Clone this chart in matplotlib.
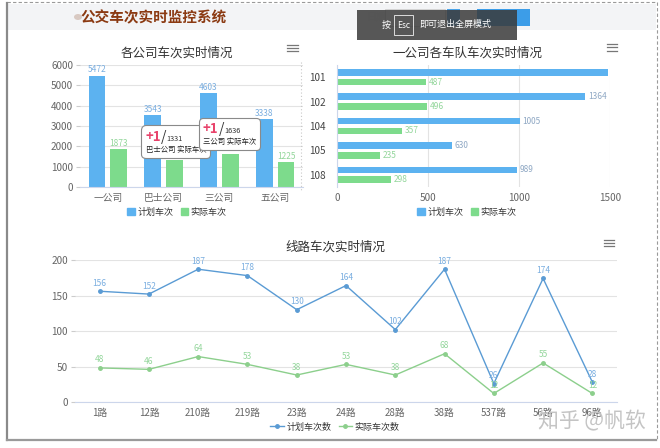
import matplotlib
matplotlib.use('Agg')
import matplotlib.pyplot as plt
from matplotlib.patches import Rectangle, Patch, Ellipse
from matplotlib.lines import Line2D
from matplotlib.offsetbox import TextArea, HPacker, VPacker, AnnotationBbox
import numpy as np

plt.rcParams['font.family'] = ['Noto Sans CJK SC', 'DejaVu Sans']

# ---------------- data ----------------
companies = ['一公司', '巴士公司', '三公司', '五公司']
company_plan = [5472, 3543, 4603, 3338]
company_actual = [1873, 1331, 1636, 1225]

teams = ['101', '102', '104', '105', '108']
team_plan = [1490, 1364, 1005, 630, 989]
team_actual = [487, 496, 357, 235, 298]

routes = ['1路', '12路', '210路', '219路', '23路', '24路', '28路', '38路', '537路', '56路', '96路']
route_plan = [156, 152, 187, 178, 130, 164, 102, 187, 26, 174, 28]
route_actual = [48, 46, 64, 53, 38, 53, 38, 68, 12, 55, 12]

# ---------------- style ----------------
BLUE = '#5cb2f0'
GREEN = '#7ddb8c'
BLUE_LBL = '#7aaee0'
GREEN_LBL = '#93d69b'
LINE_BLUE = '#5a9bd4'
LINE_GREEN = '#8ccf8c'
GRID = '#e3e3e3'
AXIS = '#ccd6eb'
TICK = '#666666'
TITLE = '#333333'

W, H = 660, 448
fig = plt.figure(figsize=(6.6, 4.48), dpi=100)
fig.patch.set_facecolor('white')


def rect(x0, y0, x1, y1):
    return [x0 / W, 1 - y1 / H, (x1 - x0) / W, (y1 - y0) / H]


def fx(x):
    return x / W


def fy(y):
    return 1 - y / H


T = fig.transFigure

# ---------------- page decoration ----------------
fig.patches.append(Rectangle((fx(7), fy(30)), fx(656) - fx(7), (30 - 4) / H,
                             transform=T, fc='#f3f4f6', ec='none', zorder=0))
fig.lines.append(Line2D([fx(7), fx(657)], [fy(2), fy(2)], transform=T,
                        color='#9a9a9a', lw=0.8, ls=(0, (3, 2))))
fig.lines.append(Line2D([fx(657), fx(657)], [fy(2), fy(440)], transform=T,
                        color='#9a9a9a', lw=0.8, ls=(0, (3, 2))))
fig.lines.append(Line2D([fx(7), fx(7)], [fy(3), fy(440)], transform=T,
                        color='#8a8a8a', lw=1.6))
fig.lines.append(Line2D([fx(7), fx(656)], [fy(440), fy(440)], transform=T,
                        color='#9a9a9a', lw=1.6))
fig.lines.append(Line2D([fx(301), fx(301)], [fy(62), fy(190)], transform=T,
                        color='#c8c8c8', lw=0.8, ls=(0, (1, 2))))

fig.patches.append(Ellipse((fx(78), fy(17)), 8 / W, 6 / H, transform=T,
                           fc='#8b4a2a', ec='none', alpha=0.25))
fig.text(fx(80), fy(17), '公交车次实时监控系统', fontsize=10.5, weight='bold',
         color='#8b3a12', va='center', ha='left')

# elements behind the fullscreen overlay
fig.text(fx(366), fy(17), '日期', fontsize=7, color='#555', va='center')
fig.patches.append(Rectangle((fx(385), fy(26)), (445 - 385) / W, 17 / H,
                             transform=T, fc='white', ec='#cccccc', lw=0.6))
fig.patches.append(Rectangle((fx(447), fy(26)), (460 - 447) / W, 17 / H,
                             transform=T, fc='#4aa3e8', ec='none'))
fig.patches.append(Rectangle((fx(477), fy(26)), (530 - 477) / W, 17 / H,
                             transform=T, fc='#3c9de8', ec='none'))
# overlay
fig.patches.append(Rectangle((fx(357), fy(40)), (517 - 357) / W, 30 / H,
                             transform=T, fc='#3a3a3a', ec='none', alpha=0.85, zorder=3))
fig.text(fx(386), fy(25), '按', fontsize=6.5, color='white', ha='center', va='center', zorder=4)
fig.patches.append(Rectangle((fx(394), fy(35)), (413 - 394) / W, 20 / H,
                             transform=T, fc='none', ec='#dddddd', lw=0.7, zorder=4))
fig.text(fx(403.5), fy(25), 'Esc', fontsize=6, color='white', ha='center', va='center', zorder=4)
fig.text(fx(419), fy(25), '即可退出全屏模式', fontsize=6.5, color='white', ha='left', va='center', zorder=4)


def hamburger(x0, x1, ys):
    for y in ys:
        fig.lines.append(Line2D([fx(x0), fx(x1)], [fy(y), fy(y)], transform=T,
                                color='#777777', lw=0.9))


hamburger(287, 298, [45, 48, 51])
hamburger(607, 617, [44, 47.5, 51])
hamburger(604, 614, [240, 243, 246])

# watermark
fig.text(fx(592), fy(421), '知乎 @帆软', fontsize=15, color='#c4c4c4',
         ha='center', va='center', zorder=10)

# ---------------- chart 1 ----------------
ax1 = fig.add_axes(rect(80, 65, 303, 187))
x = np.arange(len(companies))
bw, off = 0.3, 0.195
ax1.bar(x - off, company_plan, bw, color=BLUE, zorder=2)
ax1.bar(x + off, company_actual, bw, color=GREEN, zorder=2)
for xi, v in zip(x, company_plan):
    ax1.annotate(str(v), (xi - off, v), xytext=(0, 1), textcoords='offset points',
                 ha='center', va='bottom', fontsize=6, color=BLUE_LBL)
for xi, v in zip(x, company_actual):
    ax1.annotate(str(v), (xi + off, v), xytext=(0, 1), textcoords='offset points',
                 ha='center', va='bottom', fontsize=6, color=GREEN_LBL)
ax1.set_xlim(-0.5, len(companies) - 0.5)
ax1.set_ylim(0, 6000)
ax1.set_yticks(np.arange(0, 6001, 1000))
ax1.set_xticks(x)
ax1.set_xticklabels(companies)
ax1.yaxis.grid(True, color=GRID, lw=0.8)
ax1.set_axisbelow(True)
for s in ['top', 'right', 'left']:
    ax1.spines[s].set_visible(False)
ax1.spines['bottom'].set_color(AXIS)
ax1.tick_params(axis='y', labelsize=7.2, labelcolor=TICK, length=3, color='#cccccc', pad=2)
ax1.tick_params(axis='x', labelsize=7, labelcolor=TICK, length=0, pad=4)
ax1.set_facecolor('none')


def tooltip(ax, xy, value, name, dx, dy):
    t1 = TextArea('+1', textprops=dict(color='#e8436b', fontsize=9.5, weight='bold'))
    t2 = TextArea('/', textprops=dict(color='#333333', fontsize=10))
    t3 = TextArea(str(value), textprops=dict(color='#333333', fontsize=5.3))
    row1 = HPacker(children=[t1, t2, t3], align='baseline', pad=0, sep=0)
    row2 = TextArea(name + ' 实际车次', textprops=dict(color='#222222', fontsize=5.3))
    box = VPacker(children=[row1, row2], align='left', pad=0, sep=1.5)
    ab = AnnotationBbox(box, xy, xybox=(dx, dy), xycoords='data',
                        boxcoords='offset points', box_alignment=(0.5, 0),
                        frameon=True, pad=0.3,
                        bboxprops=dict(boxstyle='round,pad=0.3', fc='white',
                                       ec='#8a8a8a', lw=0.8),
                        zorder=6)
    ax.add_artist(ab)


tooltip(ax1, (1 + off, company_actual[1]), company_actual[1], companies[1], 1, 4.5)
tooltip(ax1, (2 + off, company_actual[2]), company_actual[2], companies[2], -0.5, 5.5)

fig.text(fx(177), fy(53), '各公司车次实时情况', fontsize=9, color=TITLE, ha='center', va='center')
fig.legend(handles=[Patch(color=BLUE, label='计划车次'), Patch(color=GREEN, label='实际车次')],
           loc='center', bbox_to_anchor=(fx(177), fy(212)), ncol=2, frameon=False,
           fontsize=6.5, handlelength=0.8, handleheight=0.8, columnspacing=0.8,
           handletextpad=0.3, labelcolor='#333333')

# ---------------- chart 2 ----------------
ax2 = fig.add_axes(rect(337, 65, 610, 187))
y = np.arange(len(teams))
bh, yoff = 0.27, 0.2
ax2.barh(y - yoff, team_plan, bh, color=BLUE, zorder=2)
ax2.barh(y + yoff, team_actual, bh, color=GREEN, zorder=2)
for yi, v in zip(y, team_plan):
    ax2.annotate(str(v), (v, yi - yoff), xytext=(2, 0), textcoords='offset points',
                 ha='left', va='center', fontsize=6, color='#8fa8c4', clip_on=True)
for yi, v in zip(y, team_actual):
    ax2.annotate(str(v), (v, yi + yoff), xytext=(2, 0), textcoords='offset points',
                 ha='left', va='center', fontsize=6, color=GREEN_LBL, clip_on=True)
ax2.set_xlim(0, 1500)
ax2.set_ylim(len(teams) - 0.5, -0.5)
ax2.set_xticks([0, 500, 1000, 1500])
ax2.set_yticks(y)
ax2.set_yticklabels(teams)
ax2.xaxis.grid(True, color=GRID, lw=0.8)
ax2.set_axisbelow(True)
for s in ['top', 'right', 'bottom']:
    ax2.spines[s].set_visible(False)
ax2.spines['left'].set_color(AXIS)
ax2.tick_params(axis='x', labelsize=7.2, labelcolor=TICK, length=0, pad=4)
ax2.tick_params(axis='y', labelsize=7.2, labelcolor='#444444', length=0, pad=8)
ax2.set_facecolor('none')

fig.text(fx(467), fy(53), '一公司各车队车次实时情况', fontsize=9, color=TITLE, ha='center', va='center')
fig.legend(handles=[Patch(color=BLUE, label='计划车次'), Patch(color=GREEN, label='实际车次')],
           loc='center', bbox_to_anchor=(fx(467), fy(212)), ncol=2, frameon=False,
           fontsize=6.5, handlelength=0.8, handleheight=0.8, columnspacing=0.8,
           handletextpad=0.3, labelcolor='#333333')

# ---------------- chart 3 ----------------
ax3 = fig.add_axes(rect(75, 260, 617, 402))
xr = np.arange(len(routes))
ax3.plot(xr, route_plan, color=LINE_BLUE, lw=1, marker='o', ms=2.5, zorder=3)
ax3.plot(xr, route_actual, color=LINE_GREEN, lw=1, marker='o', ms=2.5, zorder=3)
for xi, v in zip(xr, route_plan):
    ax3.annotate(str(v), (xi, v), xytext=(0, 2.5), textcoords='offset points',
                 ha='center', va='bottom', fontsize=6, color=BLUE_LBL, zorder=4)
for xi, v in zip(xr, route_actual):
    ax3.annotate(str(v), (xi, v), xytext=(0, 2.5), textcoords='offset points',
                 ha='center', va='bottom', fontsize=6, color=GREEN_LBL, zorder=4)
ax3.set_xlim(-0.5, len(routes) - 0.5)
ax3.set_ylim(0, 200)
ax3.set_yticks(np.arange(0, 201, 50))
ax3.set_xticks(xr)
ax3.set_xticklabels(routes)
ax3.yaxis.grid(True, color=GRID, lw=0.8)
ax3.set_axisbelow(True)
for s in ['top', 'right', 'left']:
    ax3.spines[s].set_visible(False)
ax3.spines['bottom'].set_color(AXIS)
ax3.tick_params(axis='y', labelsize=7.2, labelcolor=TICK, length=3, color='#cccccc', pad=2)
ax3.tick_params(axis='x', labelsize=7, labelcolor=TICK, length=0, pad=4)
ax3.set_facecolor('none')

fig.text(fx(335), fy(247), '线路车次实时情况', fontsize=9, color=TITLE, ha='center', va='center')
fig.legend(handles=[Line2D([], [], color=LINE_BLUE, lw=1, marker='o', ms=2.5, label='计划车次数'),
                    Line2D([], [], color=LINE_GREEN, lw=1, marker='o', ms=2.5, label='实际车次数')],
           loc='center', bbox_to_anchor=(fx(335), fy(427)), ncol=2, frameon=False,
           fontsize=6.5, handlelength=1.5, columnspacing=0.8,
           handletextpad=0.3, labelcolor='#333333')

fig.savefig('out.png', dpi=100)
